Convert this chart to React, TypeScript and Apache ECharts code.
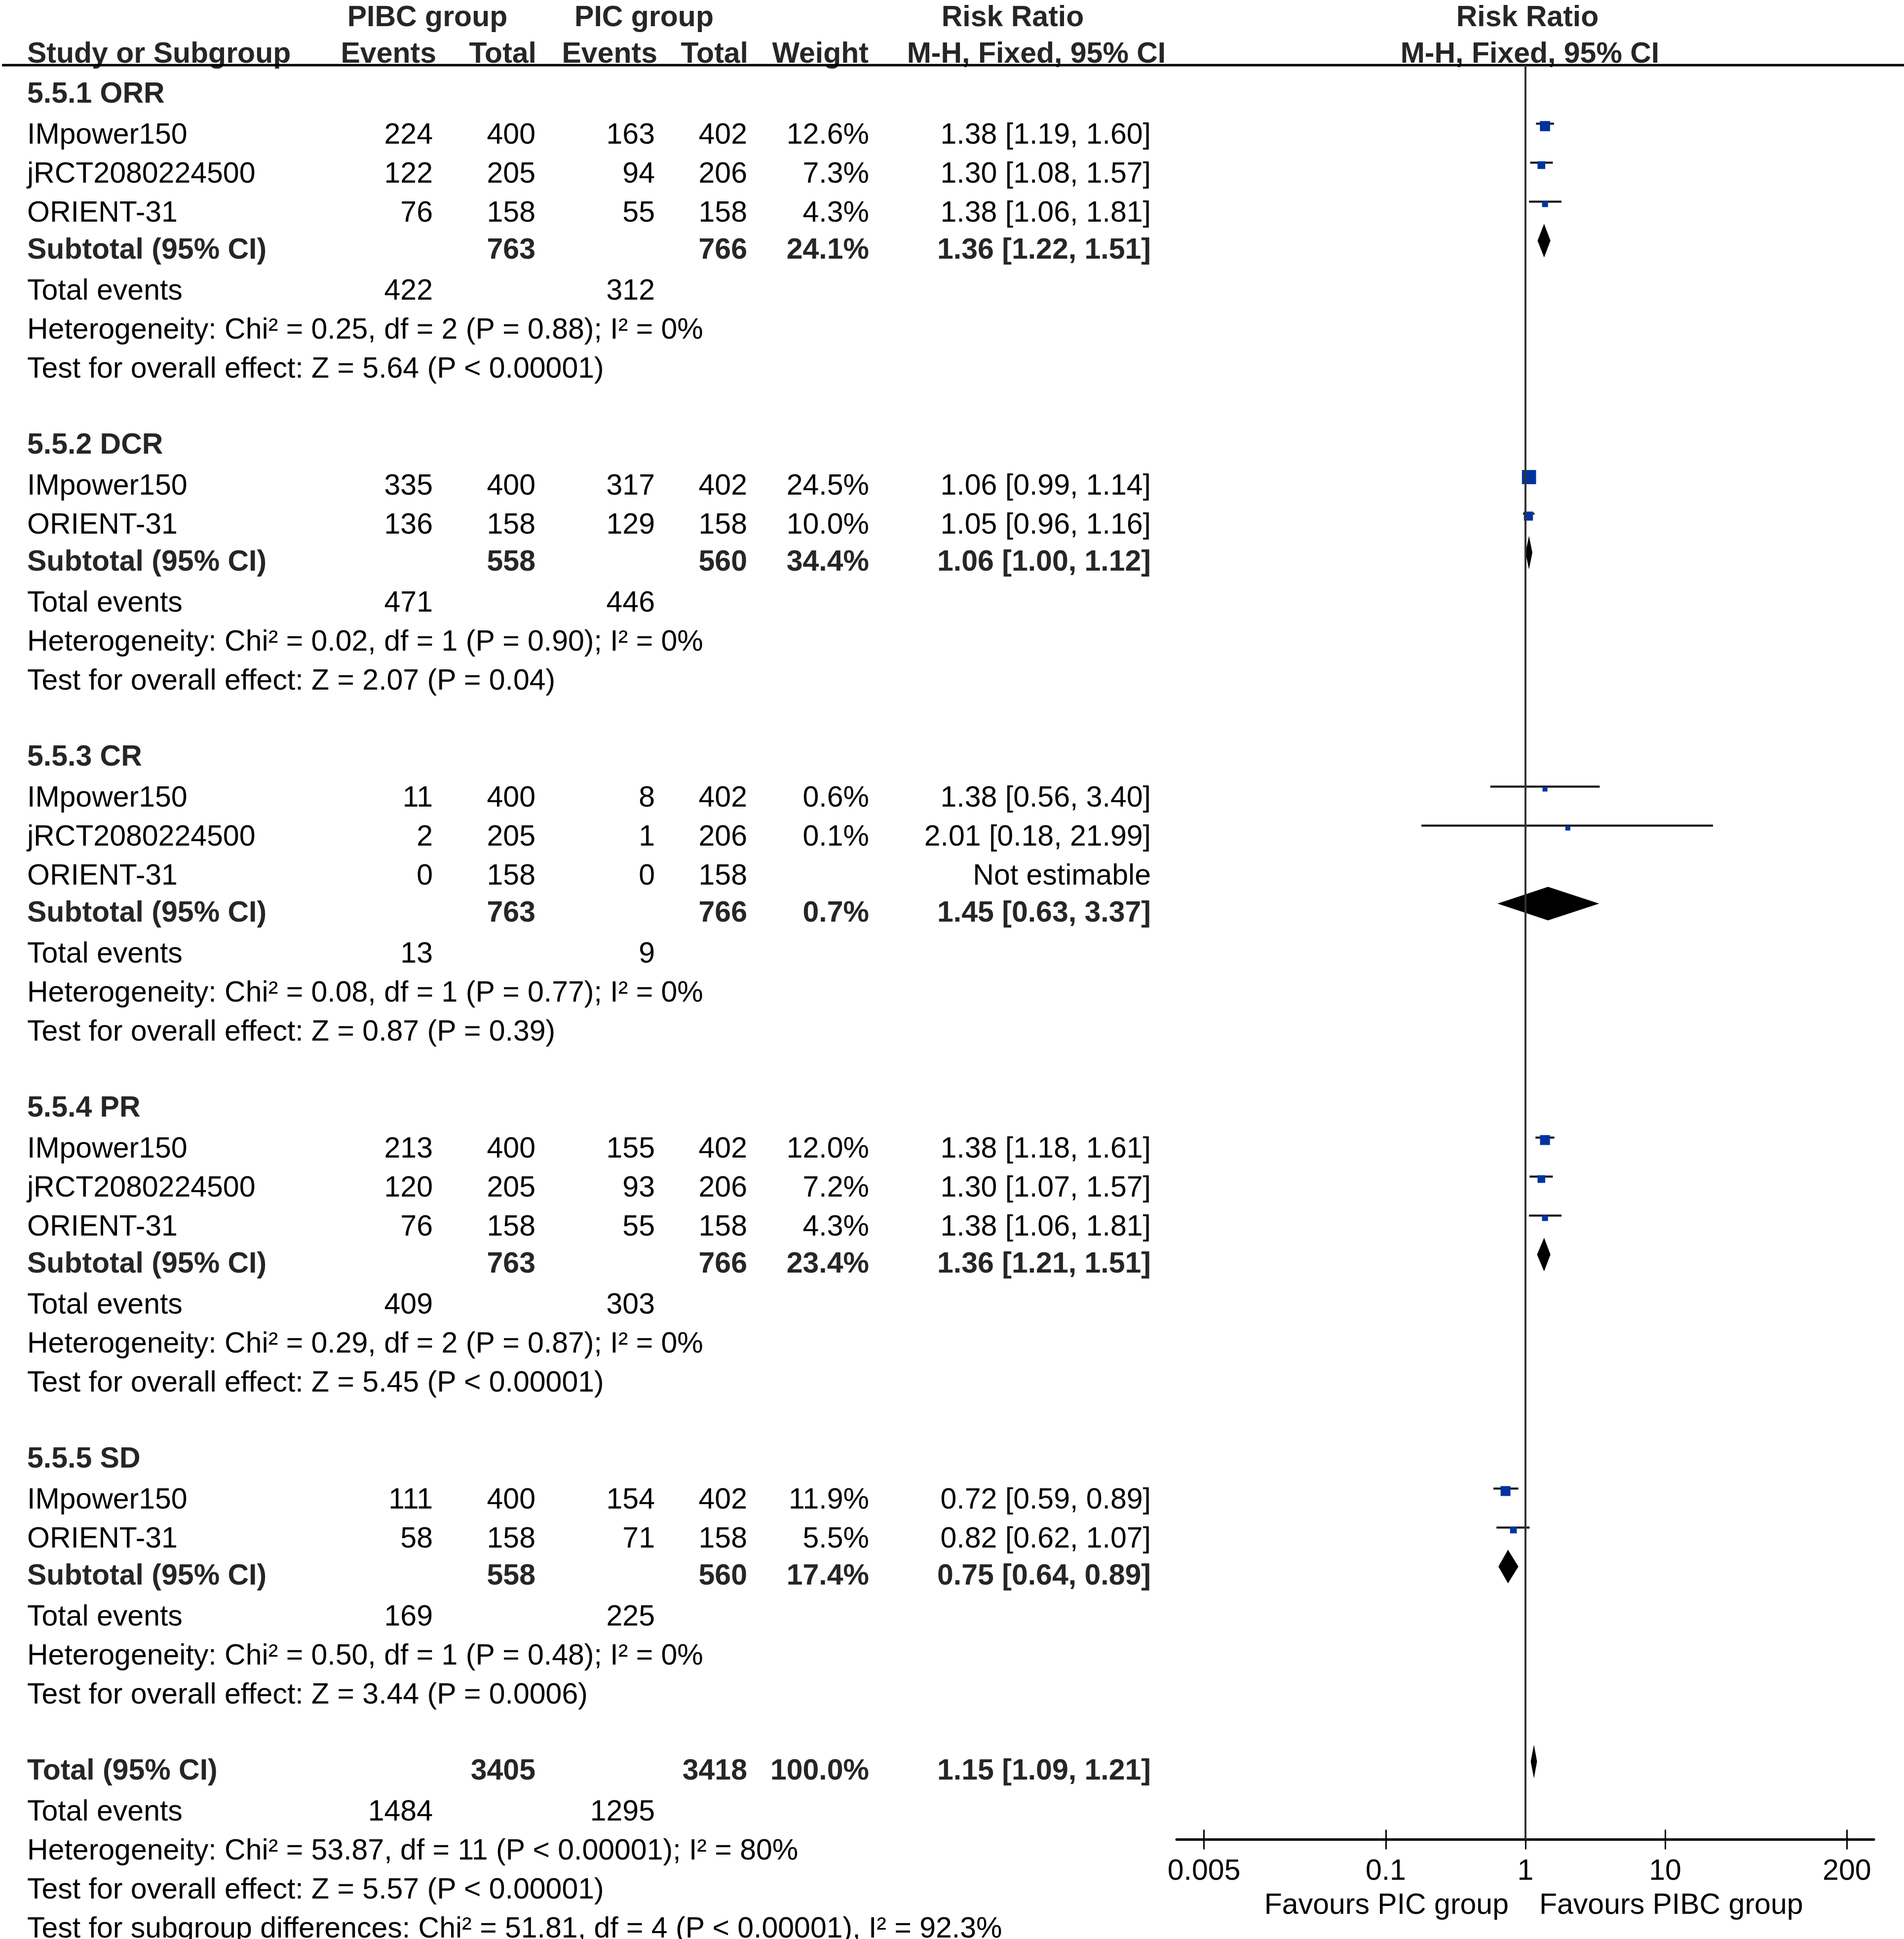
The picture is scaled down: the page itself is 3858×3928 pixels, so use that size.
import React, { useEffect, useRef } from "react";
import * as echarts from "echarts";

// ---------------- DATA ----------------
const subgroupTitles = ["5.5.1 ORR", "5.5.2 DCR", "5.5.3 CR", "5.5.4 PR", "5.5.5 SD"];
const studyNames = [
  ["IMpower150", "jRCT2080224500", "ORIENT-31"],
  ["IMpower150", "ORIENT-31"],
  ["IMpower150", "jRCT2080224500", "ORIENT-31"],
  ["IMpower150", "jRCT2080224500", "ORIENT-31"],
  ["IMpower150", "ORIENT-31"],
];
const pibcEvents = [[224, 122, 76], [335, 136], [11, 2, 0], [213, 120, 76], [111, 58]];
const pibcTotals = [[400, 205, 158], [400, 158], [400, 205, 158], [400, 205, 158], [400, 158]];
const picEvents = [[163, 94, 55], [317, 129], [8, 1, 0], [155, 93, 55], [154, 71]];
const picTotals = [[402, 206, 158], [402, 158], [402, 206, 158], [402, 206, 158], [402, 158]];
const studyWeights = [[12.6, 7.3, 4.3], [24.5, 10.0], [0.6, 0.1, null], [12.0, 7.2, 4.3], [11.9, 5.5]];
const studyRR = [[1.38, 1.30, 1.38], [1.06, 1.05], [1.38, 2.01, null], [1.38, 1.30, 1.38], [0.72, 0.82]];
const studyLow = [[1.19, 1.08, 1.06], [0.99, 0.96], [0.56, 0.18, null], [1.18, 1.07, 1.06], [0.59, 0.62]];
const studyHigh = [[1.60, 1.57, 1.81], [1.14, 1.16], [3.40, 21.99, null], [1.61, 1.57, 1.81], [0.89, 1.07]];

const subtotalPibc = [763, 558, 763, 763, 558];
const subtotalPic = [766, 560, 766, 766, 560];
const subtotalWeight = [24.1, 34.4, 0.7, 23.4, 17.4];
const subtotalRR = [1.36, 1.06, 1.45, 1.36, 0.75];
const subtotalLow = [1.22, 1.0, 0.63, 1.21, 0.64];
const subtotalHigh = [1.51, 1.12, 3.37, 1.51, 0.89];
const totalEventsPibc = [422, 471, 13, 409, 169];
const totalEventsPic = [312, 446, 9, 303, 225];
const heterogeneityTexts = [
  "Heterogeneity: Chi² = 0.25, df = 2 (P = 0.88); I² = 0%",
  "Heterogeneity: Chi² = 0.02, df = 1 (P = 0.90); I² = 0%",
  "Heterogeneity: Chi² = 0.08, df = 1 (P = 0.77); I² = 0%",
  "Heterogeneity: Chi² = 0.29, df = 2 (P = 0.87); I² = 0%",
  "Heterogeneity: Chi² = 0.50, df = 1 (P = 0.48); I² = 0%",
];
const overallEffectTexts = [
  "Test for overall effect: Z = 5.64 (P < 0.00001)",
  "Test for overall effect: Z = 2.07 (P = 0.04)",
  "Test for overall effect: Z = 0.87 (P = 0.39)",
  "Test for overall effect: Z = 5.45 (P < 0.00001)",
  "Test for overall effect: Z = 3.44 (P = 0.0006)",
];

const overallPibcTotal = 3405;
const overallPicTotal = 3418;
const overallWeight = 100.0;
const overallRR = 1.15;
const overallLow = 1.09;
const overallHigh = 1.21;
const overallEventsPibc = 1484;
const overallEventsPic = 1295;
const overallHeterogeneity = "Heterogeneity: Chi² = 53.87, df = 11 (P < 0.00001); I² = 80%";
const overallEffect = "Test for overall effect: Z = 5.57 (P < 0.00001)";
const subgroupDifferences = "Test for subgroup differences: Chi² = 51.81, df = 4 (P < 0.00001), I² = 92.3%";

const xTickValues = [0.005, 0.1, 1, 10, 200];
const xTickLabels = ["0.005", "0.1", "1", "10", "200"];
const favoursLeft = "Favours PIC group";
const favoursRight = "Favours PIBC group";

// ---------------- LAYOUT ----------------
const W = 3858;
const H = 3928;
const FONT = '"Liberation Sans", Arial, sans-serif';
const FS = 59;
const ROW0 = 171.5; // pixel y of row 0 marks
const PITCH = 79;
const AXIS_ROW = 45;
const GRID_LEFT = 2384;
const GRID_WIDTH = 1413;
const X_MIN = 0.00318;
const X_MAX = 312;
const COL = { name: 55, e1: 877, t1: 1085, e2: 1327, t2: 1514, w: 1761, rr: 2332 };
const BOLD_COLOR = "#262626";
const TEXT_COLOR = "#000";
const SQUARE_COLOR = "#0033a0";

const rowY = (r: number) => ROW0 + r * PITCH;
const fmtRR = (v: number, lo: number, hi: number) =>
  `${v.toFixed(2)} [${lo.toFixed(2)}, ${hi.toFixed(2)}]`;
const squareSize = (w: number) => Math.max(10, 5.8 * Math.sqrt(w));

type Cell = { text: string; x: number; align: "left" | "right" | "center" };
type Row = { r: number; bold: boolean; cells: Cell[] };

function buildLayout() {
  const rows: Row[] = [];
  const studies: any[] = [];
  const diamonds: any[] = [];
  let r = 0;
  subgroupTitles.forEach((title, g) => {
    rows.push({ r, bold: true, cells: [{ text: title, x: COL.name, align: "left" }] });
    r++;
    studyNames[g].forEach((name, i) => {
      const w = studyWeights[g][i];
      const v = studyRR[g][i];
      const cells: Cell[] = [
        { text: name, x: COL.name, align: "left" },
        { text: String(pibcEvents[g][i]), x: COL.e1, align: "right" },
        { text: String(pibcTotals[g][i]), x: COL.t1, align: "right" },
        { text: String(picEvents[g][i]), x: COL.e2, align: "right" },
        { text: String(picTotals[g][i]), x: COL.t2, align: "right" },
      ];
      if (w != null) cells.push({ text: `${w.toFixed(1)}%`, x: COL.w, align: "right" });
      if (v != null) {
        cells.push({ text: fmtRR(v, studyLow[g][i] as number, studyHigh[g][i] as number), x: COL.rr, align: "right" });
        studies.push([studyLow[g][i], studyHigh[g][i], v, r, squareSize(w as number)]);
      } else {
        cells.push({ text: "Not estimable", x: COL.rr, align: "right" });
      }
      rows.push({ r, bold: false, cells });
      r++;
    });
    rows.push({
      r,
      bold: true,
      cells: [
        { text: "Subtotal (95% CI)", x: COL.name, align: "left" },
        { text: String(subtotalPibc[g]), x: COL.t1, align: "right" },
        { text: String(subtotalPic[g]), x: COL.t2, align: "right" },
        { text: `${subtotalWeight[g].toFixed(1)}%`, x: COL.w, align: "right" },
        { text: fmtRR(subtotalRR[g], subtotalLow[g], subtotalHigh[g]), x: COL.rr, align: "right" },
      ],
    });
    diamonds.push([subtotalLow[g], subtotalHigh[g], subtotalRR[g], r]);
    r++;
    rows.push({
      r,
      bold: false,
      cells: [
        { text: "Total events", x: COL.name, align: "left" },
        { text: String(totalEventsPibc[g]), x: COL.e1, align: "right" },
        { text: String(totalEventsPic[g]), x: COL.e2, align: "right" },
      ],
    });
    r++;
    rows.push({ r, bold: false, cells: [{ text: heterogeneityTexts[g], x: COL.name, align: "left" }] });
    r++;
    rows.push({ r, bold: false, cells: [{ text: overallEffectTexts[g], x: COL.name, align: "left" }] });
    r += 2;
  });
  rows.push({
    r,
    bold: true,
    cells: [
      { text: "Total (95% CI)", x: COL.name, align: "left" },
      { text: String(overallPibcTotal), x: COL.t1, align: "right" },
      { text: String(overallPicTotal), x: COL.t2, align: "right" },
      { text: `${overallWeight.toFixed(1)}%`, x: COL.w, align: "right" },
      { text: fmtRR(overallRR, overallLow, overallHigh), x: COL.rr, align: "right" },
    ],
  });
  diamonds.push([overallLow, overallHigh, overallRR, r]);
  r++;
  rows.push({
    r,
    bold: false,
    cells: [
      { text: "Total events", x: COL.name, align: "left" },
      { text: String(overallEventsPibc), x: COL.e1, align: "right" },
      { text: String(overallEventsPic), x: COL.e2, align: "right" },
    ],
  });
  r++;
  rows.push({ r, bold: false, cells: [{ text: overallHeterogeneity, x: COL.name, align: "left" }] });
  r++;
  rows.push({ r, bold: false, cells: [{ text: overallEffect, x: COL.name, align: "left" }] });
  r++;
  rows.push({ r, bold: false, cells: [{ text: subgroupDifferences, x: COL.name, align: "left" }] });
  return { rows, studies, diamonds };
}

function txt(text: string, x: number, y: number, align: string, bold: boolean, color?: string) {
  return {
    type: "text",
    silent: true,
    style: {
      text,
      x,
      y,
      textAlign: align,
      textVerticalAlign: "middle",
      fontFamily: FONT,
      fontSize: FS,
      fontWeight: bold ? "bold" : "normal",
      fill: color || (bold ? BOLD_COLOR : TEXT_COLOR),
    },
  };
}

export default function App() {
  const ref = useRef<HTMLDivElement>(null);
  useEffect(() => {
    if (!ref.current) return;
    const chart = echarts.init(ref.current, undefined, { renderer: "svg" });
    const { rows, studies, diamonds } = buildLayout();

    const graphics: any[] = [];
    // header
    const h1 = 33;
    const h2 = 107;
    graphics.push(txt("PIBC group", 866, h1, "center", true));
    graphics.push(txt("PIC group", 1305, h1, "center", true));
    graphics.push(txt("Risk Ratio", 2052, h1, "center", true));
    graphics.push(txt("Risk Ratio", 3095, h1, "center", true));
    graphics.push(txt("Study or Subgroup", COL.name, h2, "left", true));
    graphics.push(txt("Events", 884, h2, "right", true));
    graphics.push(txt("Total", 1087, h2, "right", true));
    graphics.push(txt("Events", 1332, h2, "right", true));
    graphics.push(txt("Total", 1516, h2, "right", true));
    graphics.push(txt("Weight", 1760, h2, "right", true));
    graphics.push(txt("M-H, Fixed, 95% CI", 2100, h2, "center", true));
    graphics.push(txt("M-H, Fixed, 95% CI", 3100, h2, "center", true));
    graphics.push({
      type: "line",
      silent: true,
      shape: { x1: 4, y1: rowY(-0.5), x2: W, y2: rowY(-0.5) },
      style: { stroke: "#000", lineWidth: 5 },
    });
    rows.forEach((row) => {
      const y = rowY(row.r) + (row.bold ? 16 : 20);
      row.cells.forEach((c) => graphics.push(txt(c.text, c.x, y, c.align, row.bold)));
    });
    graphics.push(txt(favoursLeft, 3057, 3857, "right", false));
    graphics.push(txt(favoursRight, 3119, 3857, "left", false));

    const baseAxis = {
      type: "log",
      logBase: 10,
      min: X_MIN,
      max: X_MAX,
      gridIndex: 0,
      position: "bottom",
      splitLine: { show: false },
      minorTick: { show: false },
    };

    chart.setOption({
      animation: false,
      backgroundColor: "#fff",
      grid: {
        left: GRID_LEFT,
        width: GRID_WIDTH,
        top: rowY(-0.5),
        height: (AXIS_ROW + 0.5) * PITCH,
        containLabel: false,
        outerBoundsMode: "none",
      },
      xAxis: [
        {
          ...baseAxis,
          axisLine: { show: true, onZero: false, lineStyle: { color: "#000", width: 5 } },
          axisTick: {
            show: true,
            inside: false,
            length: 20,
            customValues: xTickValues,
            lineStyle: { color: "#000", width: 3 },
          },
          axisLabel: {
            show: true,
            customValues: xTickValues,
            margin: 32,
            fontSize: FS,
            fontFamily: FONT,
            color: "#000",
            formatter: (v: number) => {
              let best = 0;
              xTickValues.forEach((t, i) => {
                if (Math.abs(Math.log10(t) - Math.log10(v)) < Math.abs(Math.log10(xTickValues[best]) - Math.log10(v))) best = i;
              });
              return xTickLabels[best];
            },
          },
        },
        {
          ...baseAxis,
          axisLine: { show: false, onZero: false },
          axisTick: {
            show: true,
            inside: true,
            length: 20,
            customValues: xTickValues,
            lineStyle: { color: "#000", width: 3 },
          },
          axisLabel: { show: false },
        },
      ],
      yAxis: {
        type: "value",
        inverse: true,
        min: -0.5,
        max: AXIS_ROW,
        show: false,
        axisLine: { onZero: false },
        splitLine: { show: false },
      },
      graphic: graphics,
      series: [
        {
          type: "custom",
          xAxisIndex: 0,
          clip: false,
          data: studies,
          encode: { x: [0, 1, 2], y: 3 },
          renderItem: (params: any, api: any) => {
            const y = api.value(3);
            const lo = api.coord([api.value(0), y]);
            const hi = api.coord([api.value(1), y]);
            const c = api.coord([api.value(2), y]);
            const s = api.value(4);
            return {
              type: "group",
              children: [
                {
                  type: "line",
                  shape: { x1: lo[0], y1: lo[1], x2: hi[0], y2: hi[1] },
                  style: { stroke: "#000", lineWidth: 4 },
                },
                {
                  type: "rect",
                  shape: { x: c[0] - s / 2, y: c[1] + 5 - s / 2, width: s, height: s },
                  style: { fill: SQUARE_COLOR },
                },
              ],
            };
          },
          markLine: {
            silent: true,
            symbol: "none",
            label: { show: false },
            lineStyle: { color: "#333", width: 4, type: "solid" },
            data: [{ xAxis: 1 }],
          },
          z: 3,
        },
        {
          type: "custom",
          xAxisIndex: 0,
          clip: false,
          data: diamonds,
          encode: { x: [0, 1, 2], y: 3 },
          renderItem: (params: any, api: any) => {
            const y = api.value(3);
            const lo = api.coord([api.value(0), y]);
            const hi = api.coord([api.value(1), y]);
            const c = api.coord([api.value(2), y]);
            const half = 34;
            return {
              type: "polygon",
              shape: {
                points: [
                  [lo[0], lo[1]],
                  [c[0], c[1] - half],
                  [hi[0], hi[1]],
                  [c[0], c[1] + half],
                ],
              },
              style: { fill: "#000" },
            };
          },
          z: 4,
        },
      ],
    });
    return () => chart.dispose();
  }, []);
  return (
    <div
      ref={ref}
      style={{ position: "absolute", left: 0, top: 0, width: W, height: H, background: "#fff" }}
    />
  );
}
